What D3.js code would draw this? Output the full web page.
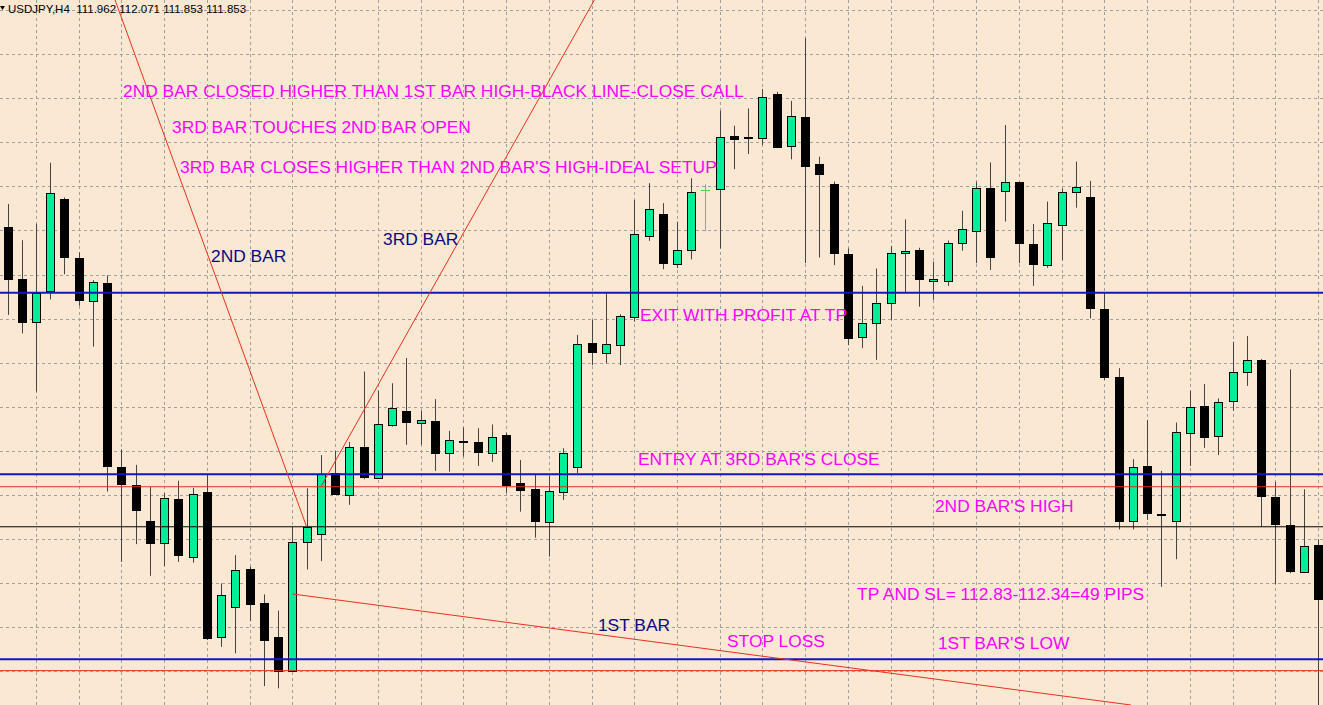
<!DOCTYPE html>
<html>
<head>
<meta charset="utf-8">
<script src="https://cdn.jsdelivr.net/npm/d3@7"></script>
<style>
body { margin:0; background:#fae8d3; }
svg { display:block; }
</style>
</head>
<body>
<svg width="1323" height="705"></svg>
<script>
// USDJPY H4 candles, prices
var opens  = [113.484,113.346,113.234,113.315,113.558,113.403,113.289,113.336,112.850,112.802,
              112.707,112.647,112.765,112.612,112.782,112.400,112.478,112.579,112.488,112.398,
              112.310,112.650,112.671,112.833,112.776,112.901,112.821,112.960,112.997,112.965,
              112.971,112.886,112.919,112.916,112.887,112.933,112.806,112.790,112.703,112.784,
              112.850,113.178,113.152,113.173,113.246,113.461,113.518,113.386,113.424,113.583,
              113.585,113.727,113.722,113.721,113.837,113.699,113.777,113.652,113.599,113.413,
              113.194,113.231,113.283,113.415,113.424,113.341,113.343,113.442,113.475,113.589,
              113.581,113.603,113.440,113.384,113.489,113.577,113.565,113.268,113.088,112.706,
              112.853,112.725,112.706,112.940,113.011,112.931,113.024,113.100,113.133,112.771,
              112.697,112.571,112.643];
var highs  = [113.546,113.450,113.493,113.655,113.563,113.418,113.344,113.357,112.896,112.855,
              112.797,112.780,112.813,112.794,112.828,112.541,112.616,112.585,112.512,112.469,
              112.691,112.793,112.881,112.892,112.916,113.102,113.051,113.071,113.138,112.998,
              113.029,112.945,112.954,112.952,112.962,112.940,112.868,112.828,112.826,112.899,
              113.199,113.239,113.309,113.254,113.556,113.601,113.548,113.499,113.614,113.598,
              113.793,113.753,113.799,113.850,113.843,113.819,113.985,113.671,113.605,113.428,
              113.329,113.375,113.435,113.505,113.430,113.393,113.449,113.528,113.605,113.656,
              113.755,113.605,113.493,113.552,113.587,113.658,113.607,113.309,113.111,112.870,
              112.974,112.839,112.967,113.051,113.069,113.031,113.181,113.196,113.135,112.810,
              113.108,112.790,112.658];
var lows   = [113.252,113.203,113.049,113.293,113.360,113.276,113.168,112.784,112.598,112.645,
              112.561,112.587,112.598,112.596,112.391,112.373,112.356,112.441,112.269,112.263,
              112.309,112.578,112.600,112.778,112.749,112.817,112.821,112.956,112.908,112.908,
              112.839,112.837,112.877,112.852,112.863,112.781,112.731,112.662,112.612,112.762,
              112.833,113.119,113.124,113.119,113.234,113.448,113.373,113.376,113.399,113.475,
              113.428,113.638,113.678,113.702,113.695,113.664,113.389,113.404,113.384,113.172,
              113.164,113.133,113.239,113.313,113.274,113.292,113.329,113.422,113.389,113.371,
              113.499,113.389,113.329,113.377,113.397,113.536,113.243,113.080,112.684,112.684,
              112.709,112.532,112.605,112.852,112.900,112.881,112.998,113.064,112.691,112.539,
              112.568,112.571,112.179];
var closes = [113.347,113.234,113.311,113.574,113.405,113.292,113.338,112.853,112.803,112.735,
              112.649,112.767,112.616,112.777,112.396,112.509,112.576,112.486,112.391,112.310,
              112.651,112.691,112.830,112.778,112.903,112.824,112.963,113.005,112.968,112.973,
              112.887,112.921,112.915,112.890,112.929,112.802,112.788,112.706,112.786,112.886,
              113.175,113.154,113.175,113.249,113.466,113.532,113.389,113.424,113.578,113.583,
              113.724,113.717,113.720,113.830,113.697,113.779,113.646,113.625,113.415,113.192,
              113.230,113.284,113.417,113.421,113.346,113.348,113.442,113.479,113.589,113.405,
              113.605,113.442,113.387,113.495,113.577,113.590,113.270,113.087,112.706,112.850,
              112.728,112.723,112.941,113.007,112.928,113.022,113.100,113.133,112.772,112.698,
              112.575,112.640,112.499];

// grid (price levels of the chart grid, bar numbers of the time separators)
var gridPrices = [114.060,113.943,113.826,113.709,113.593,113.476,113.359,113.242,
                  113.126,113.009,112.892,112.775,112.658,112.542,112.425,112.308];
var gridBars = [2,5,8,11,14,17,20,23,26,29,32,35,38,41,44,47,50,53,56,59,62,65,68,71,74,77,80,83,86,89,92];

// horizontal levels
var blueLevels  = [113.311, 112.830, 112.340];   // TP, entry, stop loss
var redLevels   = [112.797, 112.310];            // 2nd bar high, 1st bar low
var blackLevels = [112.691];                     // 1st bar high

// trend lines: [bar, price] -> [bar, price]
var trendLines = [
    [[7.55, 114.086], [21, 112.691]],
    [[41.2, 114.086], [22, 112.797]],
    [[20, 112.513], [78.87, 112.219]]
];

// annotations: text, bar, price (middle of the text)
var noteTexts = ["2ND BAR CLOSED HIGHER THAN 1ST BAR HIGH-BLACK LINE-CLOSE CALL",
                 "3RD BAR TOUCHES 2ND BAR OPEN",
                 "3RD BAR CLOSES HIGHER THAN 2ND BAR'S HIGH-IDEAL SETUP",
                 "EXIT WITH PROFIT AT TP",
                 "ENTRY AT 3RD BAR'S CLOSE",
                 "2ND BAR'S HIGH",
                 "TP AND SL= 112.83-112.34=49 PIPS",
                 "STOP LOSS",
                 "1ST BAR'S LOW"];
var noteBars   = [8.108, 11.548, 12.110, 44.40, 44.26, 65.11, 59.64, 50.51, 65.32];
var notePrices = [113.846, 113.750, 113.644, 113.252, 112.870, 112.746, 112.513, 112.388, 112.383];

var barTexts  = ["2ND BAR", "3RD BAR", "1ST BAR"];
var barBars   = [14.286, 26.360, 41.45];
var barPrices = [113.408, 113.453, 112.431];

var titleText = "USDJPY,H4  111.962 112.071 111.853 111.853";

var W = 1323, H = 705;
var svg = d3.select('svg');

var scaleX = d3.scaleLinear().domain([0, 92]).range([7.5, 1318]);
var scaleY = d3.scaleLinear().domain([114.086, 112.219]).range([0, H]);

svg.append('rect')
    .attr('width', W).attr('height', H)
    .attr('fill', '#fae8d3');

// grid
svg.append('g').selectAll('line')
    .data(gridPrices)
    .enter()
    .append('line')
    .attr('x1', 0).attr('x2', W)
    .attr('y1', function(d){ return Math.round(scaleY(d)) + 0.5; })
    .attr('y2', function(d){ return Math.round(scaleY(d)) + 0.5; })
    .attr('stroke', '#a0a0a0')
    .attr('stroke-dasharray', '3,3');

svg.append('g').selectAll('line')
    .data(gridBars)
    .enter()
    .append('line')
    .attr('y1', 0).attr('y2', H)
    .attr('x1', function(d){ return Math.round(scaleX(d)) + 0.5; })
    .attr('x2', function(d){ return Math.round(scaleX(d)) + 0.5; })
    .attr('stroke', '#a0a0a0')
    .attr('stroke-dasharray', '3,3');

// candles
var bars = opens.map(function(o, i){
    return {i: i, o: o, h: highs[i], l: lows[i], c: closes[i]};
});

var candle = svg.append('g').selectAll('g')
    .data(bars)
    .enter()
    .append('g');

function cx(d){ return Math.round(scaleX(d.i)); }

candle.append('line')
    .attr('x1', function(d){ return cx(d) + 0.5; })
    .attr('x2', function(d){ return cx(d) + 0.5; })
    .attr('y1', function(d){ return scaleY(d.h); })
    .attr('y2', function(d){ return scaleY(d.l); })
    .attr('stroke', function(d){ return d.o == d.c ? '#3ce03c' : '#444'; });

candle.filter(function(d){ return d.o != d.c; })
    .append('rect')
    .attr('x', function(d){ return cx(d) - 3.5; })
    .attr('width', 8)
    .attr('y', function(d){ return Math.round(scaleY(Math.max(d.o, d.c))) + 0.5; })
    .attr('height', function(d){
        return Math.max(1, Math.round(scaleY(Math.min(d.o, d.c))) - Math.round(scaleY(Math.max(d.o, d.c))));
    })
    .attr('fill', function(d){ return d.c > d.o ? '#00ee96' : '#000'; })
    .attr('stroke', '#000');

candle.filter(function(d){ return d.o == d.c; })
    .append('line')
    .attr('x1', function(d){ return cx(d) - 4; })
    .attr('x2', function(d){ return cx(d) + 5; })
    .attr('y1', function(d){ return Math.round(scaleY(d.o)) + 0.5; })
    .attr('y2', function(d){ return Math.round(scaleY(d.o)) + 0.5; })
    .attr('stroke', '#3ce03c');

// levels
function level(prices, color, width){
    svg.append('g').selectAll('line')
        .data(prices)
        .enter()
        .append('line')
        .attr('x1', 0).attr('x2', W)
        .attr('y1', function(d){ return scaleY(d); })
        .attr('y2', function(d){ return scaleY(d); })
        .attr('stroke', color)
        .attr('stroke-width', width);
}
level(redLevels, '#e2301e', 1);
level(blackLevels, '#000', 1);
level(blueLevels, '#1414c4', 2);

// trend lines
svg.append('g').selectAll('line')
    .data(trendLines)
    .enter()
    .append('line')
    .attr('x1', function(d){ return scaleX(d[0][0]); })
    .attr('y1', function(d){ return scaleY(d[0][1]); })
    .attr('x2', function(d){ return scaleX(d[1][0]); })
    .attr('y2', function(d){ return scaleY(d[1][1]); })
    .attr('stroke', '#e8301e')
    .attr('stroke-width', 1);

// text
svg.append('g').selectAll('text')
    .data(noteTexts)
    .enter()
    .append('text')
    .attr('x', function(d, i){ return scaleX(noteBars[i]); })
    .attr('y', function(d, i){ return scaleY(notePrices[i]) + 6.3; })
    .attr('font-family', 'Liberation Sans, Arial, sans-serif')
    .attr('font-size', '17.4px')
    .attr('fill', '#ff00ff')
    .text(function(d){ return d; });

svg.append('g').selectAll('text')
    .data(barTexts)
    .enter()
    .append('text')
    .attr('x', function(d, i){ return scaleX(barBars[i]); })
    .attr('y', function(d, i){ return scaleY(barPrices[i]) + 6.3; })
    .attr('font-family', 'Liberation Sans, Arial, sans-serif')
    .attr('font-size', '17.4px')
    .attr('fill', '#0a0a80')
    .text(function(d){ return d; });

svg.append('path')
    .attr('d', 'M0,6 L5,6 L2.5,10 Z')
    .attr('fill', '#000');

svg.append('text')
    .attr('x', 8).attr('y', 13)
    .attr('font-family', 'Liberation Sans, Arial, sans-serif')
    .attr('font-size', '11.5px')
    .attr('fill', '#000')
    .style('white-space', 'pre')
    .text(titleText);
</script>
</body>
</html>
